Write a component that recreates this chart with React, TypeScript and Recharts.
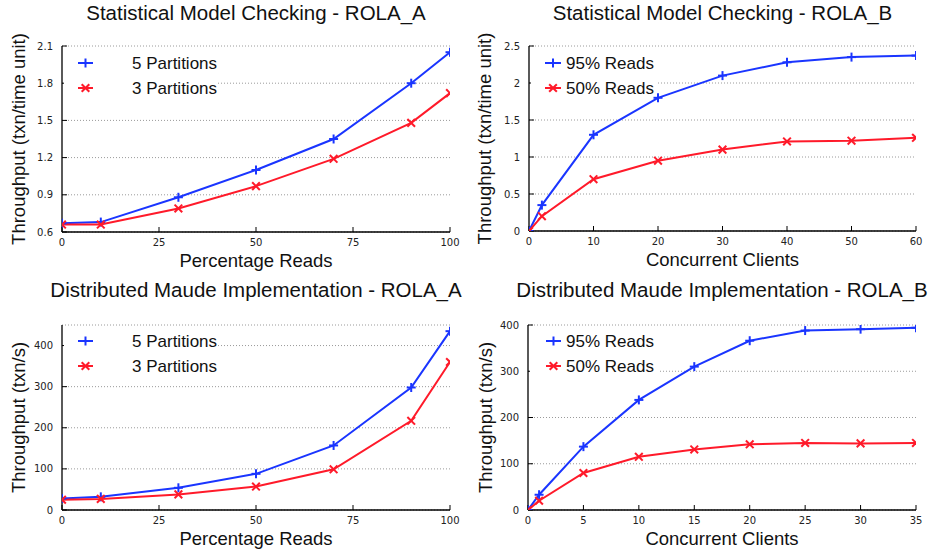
import React from 'react';
import { LineChart, Line, XAxis, YAxis, CartesianGrid, Legend } from 'recharts';

// ---- data ----
const readPercents = [0, 10, 30, 50, 70, 90, 100];
const smcA5Partitions = [0.67, 0.68, 0.88, 1.1, 1.35, 1.8, 2.05];
const smcA3Partitions = [0.66, 0.66, 0.79, 0.97, 1.19, 1.48, 1.72];

const smcClients = [0, 2, 10, 20, 30, 40, 50, 60];
const smcB95Reads = [0, 0.35, 1.3, 1.8, 2.1, 2.28, 2.35, 2.37];
const smcB50Reads = [0, 0.2, 0.7, 0.95, 1.1, 1.21, 1.22, 1.26];

const dmA5Partitions = [28, 32, 54, 88, 157, 298, 435];
const dmA3Partitions = [25, 27, 38, 57, 99, 217, 360];

const dmClients = [0, 1, 5, 10, 15, 20, 25, 30, 35];
const dmB95Reads = [0, 33, 137, 238, 310, 366, 388, 391, 394];
const dmB50Reads = [0, 20, 80, 115, 131, 142, 145, 144, 145];

const pctTicks = [0, 25, 50, 75, 100];
const smcClientTicks = [0, 10, 20, 30, 40, 50, 60];
const dmClientTicks = [0, 5, 10, 15, 20, 25, 30, 35];
const smcATicks = [0.6, 0.9, 1.2, 1.5, 1.8, 2.1];
const smcBTicks = [0, 0.5, 1, 1.5, 2, 2.5];
const dmTicks = [0, 100, 200, 300, 400];

const BLUE = '#1a35ff';
const RED = '#ff1a2a';
const SANS = '"Liberation Sans", Arial, Helvetica, sans-serif';
const TICKFONT = '"DejaVu Sans", sans-serif';

type Marker = 'plus' | 'cross';
type Series = { key: string; name: string; color: string; marker: Marker; values: number[] };

function MarkerShape({ cx, cy, color, marker, r = 4.5 }: { cx: number; cy: number; color: string; marker: Marker; r?: number }) {
  if (cx == null || cy == null || isNaN(cx) || isNaN(cy)) return null;
  if (marker === 'plus') {
    return (
      <g stroke={color} strokeWidth={2}>
        <line x1={cx - r} y1={cy} x2={cx + r} y2={cy} />
        <line x1={cx} y1={cy - r} x2={cx} y2={cy + r} />
      </g>
    );
  }
  const d = r * 0.85;
  return (
    <g stroke={color} strokeWidth={2}>
      <line x1={cx - d} y1={cy - d} x2={cx + d} y2={cy + d} />
      <line x1={cx - d} y1={cy + d} x2={cx + d} y2={cy - d} />
    </g>
  );
}

type PanelProps = {
  left: number;
  top: number;
  title: string;
  titleY: number;
  xLabel: string;
  yLabel: string;
  xs: number[];
  series: Series[];
  xDomain: [number, number];
  xTicks: number[];
  yDomain: [number, number];
  yTicks: number[];
  plot: { left: number; right: number; top: number; bottom: number };
  yLabelX: number;
  legend: { boxLeft: number; boxWidth: number; lineX1: number; lineX2: number; textX: number };
};

function Panel(p: PanelProps) {
  const data = p.xs.map((x, i) => {
    const row: Record<string, number> = { x };
    p.series.forEach((s) => {
      row[s.key] = s.values[i];
    });
    return row;
  });
  const W = 464;
  const H = 278;
  const axisLine = { stroke: '#000', strokeWidth: 1.3 };
  const tickLine = { stroke: '#000', strokeWidth: 1 };
  const tickStyle = { fontSize: 10, fill: '#222', fontFamily: TICKFONT };
  const rows = [63, 88];

  return (
    <div style={{ position: 'absolute', left: p.left, top: p.top, width: W, height: H }}>
      <LineChart width={W} height={H} data={data} margin={{ top: p.plot.top, right: W - p.plot.right, left: 0, bottom: 0 }}>
        <CartesianGrid vertical={false} stroke="#9a9a9a" strokeDasharray="1 2" />
        <XAxis
          dataKey="x"
          type="number"
          domain={p.xDomain}
          ticks={p.xTicks}
          interval={0}
          allowDataOverflow
          height={H - p.plot.bottom}
          tickSize={-5}
          tickMargin={12}
          axisLine={axisLine}
          tickLine={tickLine}
          tick={tickStyle}
          label={{
            content: (lp: any) => {
              const vb = lp.viewBox || { x: 0, y: 0, width: 0, height: 0 };
              return (
                <text x={vb.x + vb.width / 2} y={vb.y + 35} textAnchor="middle" fontSize={18.5} fontFamily={SANS} fill="#111">
                  {p.xLabel}
                </text>
              );
            },
          }}
        />
        <XAxis
          xAxisId="top"
          orientation="top"
          dataKey="x"
          type="number"
          domain={p.xDomain}
          ticks={p.xTicks}
          interval={0}
          allowDataOverflow
          height={0}
          tickSize={-5}
          tick={false}
          axisLine={axisLine}
          tickLine={tickLine}
        />
        <YAxis
          type="number"
          domain={p.yDomain}
          ticks={p.yTicks}
          interval={0}
          allowDataOverflow
          width={p.plot.left}
          tickSize={-5}
          tickMargin={14}
          axisLine={axisLine}
          tickLine={tickLine}
          tick={tickStyle}
          label={{
            content: (lp: any) => {
              const vb = lp.viewBox || { x: 0, y: 0, width: 0, height: 0 };
              const cx = vb.x + p.yLabelX;
              const cy = vb.y + vb.height / 2;
              return (
                <text
                  x={cx}
                  y={cy}
                  textAnchor="middle"
                  dominantBaseline="central"
                  transform={`rotate(-90, ${cx}, ${cy})`}
                  fontSize={18.5}
                  fontFamily={SANS}
                  fill="#111"
                >
                  {p.yLabel}
                </text>
              );
            },
          }}
        />
        <YAxis
          yAxisId="right"
          orientation="right"
          type="number"
          domain={p.yDomain}
          ticks={p.yTicks}
          interval={0}
          allowDataOverflow
          width={0}
          tickSize={-5}
          tick={false}
          axisLine={axisLine}
          tickLine={tickLine}
        />
        <Legend
          layout="vertical"
          align="center"
          verticalAlign="middle"
          wrapperStyle={{ left: 0, top: 0, width: 0, height: 0, overflow: 'visible' }}
          content={() => (
            <div style={{ position: 'absolute', left: 0, top: 0, width: 0, height: 0 }}>
              <svg width={W} height={30} style={{ position: 'absolute', left: 0, top: 0, overflow: 'visible' }}>
                <text
                  x={(p.plot.left + p.plot.right) / 2}
                  y={p.titleY}
                  textAnchor="middle"
                  fontSize={20.5}
                  fontFamily={SANS}
                  fill="#111"
                >
                  {p.title}
                </text>
              </svg>
              <div
                style={{
                  position: 'absolute',
                  left: p.legend.boxLeft,
                  top: 49,
                  width: p.legend.boxWidth,
                  height: 47,
                  background: '#fff',
                }}
              >
                <svg width={p.legend.boxWidth} height={47} style={{ position: 'absolute', left: 0, top: 0 }}>
                  {p.series.map((s, i) => {
                    const y = rows[i] - 49;
                    const x1 = p.legend.lineX1 - p.legend.boxLeft;
                    const x2 = p.legend.lineX2 - p.legend.boxLeft;
                    return (
                      <g key={s.key}>
                        <line x1={x1} y1={y} x2={x2} y2={y} stroke={s.color} strokeWidth={2} />
                        <MarkerShape cx={(x1 + x2) / 2} cy={y} color={s.color} marker={s.marker} />
                        <text x={p.legend.textX - p.legend.boxLeft} y={y} dominantBaseline="central" fontSize={17} fontFamily={SANS} fill="#111">
                          {s.name}
                        </text>
                      </g>
                    );
                  })}
                </svg>
              </div>
            </div>
          )}
        />
        {p.series.map((s) => (
          <Line
            key={s.key}
            dataKey={s.key}
            name={s.name}
            stroke={s.color}
            strokeWidth={2}
            isAnimationActive={false}
            dot={(dp: any) => <MarkerShape key={`${s.key}-${dp.index}`} cx={dp.cx} cy={dp.cy} color={s.color} marker={s.marker} />}
            activeDot={false}
          />
        ))}
      </LineChart>
    </div>
  );
}

export default function App() {
  const partitionSeries = (v5: number[], v3: number[]): Series[] => [
    { key: 'p5', name: '5 Partitions', color: BLUE, marker: 'plus', values: v5 },
    { key: 'p3', name: '3 Partitions', color: RED, marker: 'cross', values: v3 },
  ];
  const readSeries = (v95: number[], v50: number[]): Series[] => [
    { key: 'r95', name: '95% Reads', color: BLUE, marker: 'plus', values: v95 },
    { key: 'r50', name: '50% Reads', color: RED, marker: 'cross', values: v50 },
  ];
  return (
    <div style={{ position: 'absolute', left: 0, top: 0, width: 929, height: 556, background: '#fff' }}>
      <Panel
        left={0}
        top={0}
        title="Statistical Model Checking - ROLA_A"
        titleY={20}
        xLabel="Percentage Reads"
        yLabel="Throughput (txn/time unit)"
        xs={readPercents}
        series={partitionSeries(smcA5Partitions, smcA3Partitions)}
        xDomain={[0, 100]}
        xTicks={pctTicks}
        yDomain={[0.6, 2.1]}
        yTicks={smcATicks}
        plot={{ left: 62, right: 450, top: 46, bottom: 232 }}
        yLabelX={18}
        legend={{ boxLeft: 64, boxWidth: 153, lineX1: 78, lineX2: 93, textX: 132 }}
      />
      <Panel
        left={464}
        top={0}
        title="Statistical Model Checking - ROLA_B"
        titleY={20}
        xLabel="Concurrent Clients"
        yLabel="Throughput (txn/time unit)"
        xs={smcClients}
        series={readSeries(smcB95Reads, smcB50Reads)}
        xDomain={[0, 60]}
        xTicks={smcClientTicks}
        yDomain={[0, 2.5]}
        yTicks={smcBTicks}
        plot={{ left: 65, right: 452, top: 46, bottom: 231 }}
        yLabelX={20}
        legend={{ boxLeft: 67, boxWidth: 126, lineX1: 81, lineX2: 97, textX: 102 }}
      />
      <Panel
        left={0}
        top={278}
        title="Distributed Maude Implementation - ROLA_A"
        titleY={19}
        xLabel="Percentage Reads"
        yLabel="Throughput (txn/s)"
        xs={readPercents}
        series={partitionSeries(dmA5Partitions, dmA3Partitions)}
        xDomain={[0, 100]}
        xTicks={pctTicks}
        yDomain={[0, 450]}
        yTicks={dmTicks}
        plot={{ left: 62, right: 450, top: 47, bottom: 232 }}
        yLabelX={18}
        legend={{ boxLeft: 64, boxWidth: 154, lineX1: 78, lineX2: 93, textX: 132 }}
      />
      <Panel
        left={464}
        top={278}
        title="Distributed Maude Implementation - ROLA_B"
        titleY={19}
        xLabel="Concurrent Clients"
        yLabel="Throughput (txn/s)"
        xs={dmClients}
        series={readSeries(dmB95Reads, dmB50Reads)}
        xDomain={[0, 35]}
        xTicks={dmClientTicks}
        yDomain={[0, 400]}
        yTicks={dmTicks}
        plot={{ left: 64, right: 452, top: 47, bottom: 232 }}
        yLabelX={21}
        legend={{ boxLeft: 66, boxWidth: 128, lineX1: 82, lineX2: 97, textX: 102 }}
      />
    </div>
  );
}
